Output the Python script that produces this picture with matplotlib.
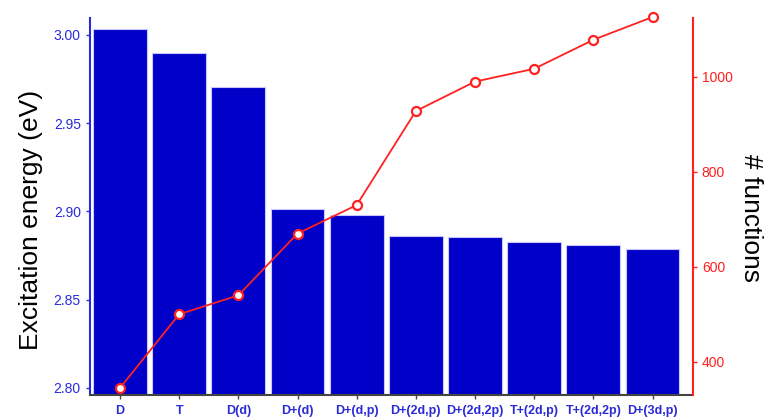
import matplotlib.pyplot as plt
import numpy as np

plt.rcParams['font.family'] = ['Liberation Sans', 'DejaVu Sans']

basis_sets = ['D', 'T', 'D(d)', 'D+(d)', 'D+(d,p)', 'D+(2d,p)', 'D+(2d,2p)',
              'T+(2d,p)', 'T+(2d,2p)', 'D+(3d,p)']
excitation_ev = [3.0034, 2.9898, 2.9705, 2.9014, 2.8980, 2.8862, 2.8857,
                 2.8827, 2.8810, 2.8787]
n_functions = [345, 500, 540, 670, 730, 928, 990, 1017, 1078, 1126]

blue = '#0000c8'
axis_blue = '#2a2ad8'
red = '#ff2020'

fig = plt.figure(figsize=(7.68, 4.18), dpi=100)
ax = fig.add_axes([0.117, 0.055, 0.785, 0.902])
x = np.arange(len(basis_sets))

ax.bar(x, excitation_ev, width=0.91, color=blue, edgecolor='#c8c8ff',
       linewidth=0.8, zorder=2)
ax.set_ylim(2.796, 3.0096)
ax.set_xlim(-0.51, 9.68)
ax.set_yticks([2.80, 2.85, 2.90, 2.95, 3.00])
ax.set_yticklabels(['2.80', '2.85', '2.90', '2.95', '3.00'])
ax.set_xticks(x)
ax.set_xticklabels(basis_sets, fontsize=9, color=axis_blue, fontweight='bold')
ax.tick_params(axis='y', colors=axis_blue, labelsize=10, length=3, width=1)
ax.tick_params(axis='x', length=3, width=1, colors='#444444',
               labelcolor=axis_blue, pad=4)
ax.set_ylabel('Excitation energy (eV)', fontsize=19)
ax.yaxis.set_label_coords(-0.077, 0.465)

ax.spines['top'].set_visible(False)
ax.spines['right'].set_visible(False)
ax.spines['left'].set_color(axis_blue)
ax.spines['left'].set_linewidth(1.5)
ax.spines['bottom'].set_color('#444444')
ax.spines['bottom'].set_linewidth(1.5)

ax2 = ax.twinx()
ax2.plot(x, n_functions, color=red, linewidth=1.3, marker='o', markersize=6.5,
         markerfacecolor='white', markeredgecolor=red, markeredgewidth=1.6,
         clip_on=False, zorder=3)
ax2.set_ylim(330, 1124)
ax2.set_yticks([400, 600, 800, 1000])
ax2.tick_params(axis='y', colors=red, labelsize=10, length=3, width=1)
ax2.set_ylabel('# functions', fontsize=19, rotation=270, va='center')
ax2.yaxis.set_label_coords(1.097, 0.47)
for side in ['top', 'left', 'bottom']:
    ax2.spines[side].set_visible(False)
ax2.spines['right'].set_color(red)
ax2.spines['right'].set_linewidth(1.5)

fig.savefig('out.png', dpi=100)
